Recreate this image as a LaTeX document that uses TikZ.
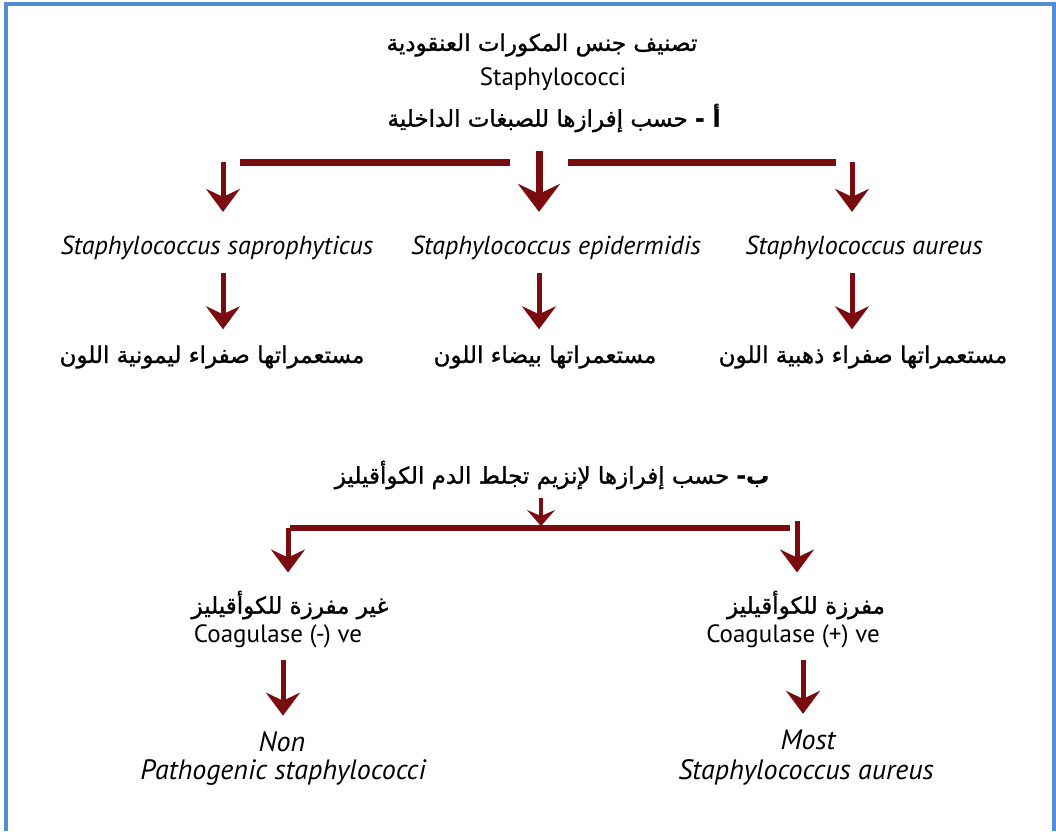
\documentclass[tikz,border=0pt]{standalone}
\usepackage{fontspec}
\setmainfont{PT Sans}
\newfontfamily\arabicfont[Script=Arabic, FakeBold=1.2]{DejaVu Sans}
\TeXXeTstate=1
\usetikzlibrary{arrows.meta, positioning}
\definecolor{arrowred}{RGB}{122,12,16}
\definecolor{frameblue}{RGB}{83,141,213}
\tikzset{arab/.style={font=\arabicfont\fontsize{23}{27}\selectfont, inner sep=0pt},
         latin/.style={font=\fontsize{25}{29}\selectfont, inner sep=0pt},
         species/.style={font=\itshape\fontsize{26}{30}\selectfont, inner sep=0pt},
         bigspecies/.style={font=\itshape\fontsize{28}{32}\selectfont, inner sep=0pt},
         bar/.style={draw=arrowred, line width=7pt},
         down/.style={draw=arrowred, line width=5pt, -{Stealth[length=23pt,width=34pt,inset=8pt]}},
         bigdown/.style={down, line width=7pt, -{Stealth[length=28pt,width=42pt,inset=10pt]}},
         smalldown/.style={down, line width=4pt, -{Stealth[length=16pt,width=28pt,inset=6pt]}},
        }

\begin{document}
\begin{tikzpicture}[x=1pt, y=-1pt]
        \useasboundingbox (0,0) rectangle (1056,831);
        \draw[frameblue, line width=4pt] (6,831) -- (6,4) -- (1054,4) -- (1054,831);

        % classification a
        \node[arab](title)at(542,45){\beginR تصنيف جنس المكورات العنقودية\endR};
        \node[latin](genus)at(553,79){Staphylococci};
        \node[arab](critA)at(554,118){\beginR\textbf{أ -} حسب إفرازها للصبغات الداخلية\endR};

        \coordinate(barAl)at(240,162);
        \coordinate(barAr)at(510,162);
        \coordinate(barBl)at(568,162);
        \coordinate(barBr)at(836,162);
        \coordinate(topL)at(223,162);
        \coordinate(topM)at(539,151);
        \coordinate(topR)at(852,162);
        \draw[bar](barAl)--(barAr);
        \draw[bar](barBl)--(barBr);

        \node[species](sapro)at(217,248){Staphylococcus saprophyticus};
        \node[species](epi)at(556,248){Staphylococcus epidermidis};
        \node[species](aur)at(864,248){Staphylococcus aureus};

        \draw[down, shorten >=24pt](topL)--(topL|-sapro.north);
        \draw[bigdown, shorten >=24pt](topM)--(topM|-epi.north);
        \draw[down, shorten >=24pt](topR)--(topR|-aur.north);

        \node[arab](colL)at(212,357){\beginR مستعمراتها صفراء ليمونية اللون\endR};
        \node[arab](colM)at(545,357){\beginR مستعمراتها بيضاء اللون\endR};
        \node[arab](colR)at(863,357){\beginR مستعمراتها صفراء ذهبية اللون\endR};

        \draw[down, shorten <=13pt, shorten >=16pt](sapro.south-|topL)--(colL.north-|topL);
        \draw[down, shorten <=13pt, shorten >=16pt](epi.south-|topM)--(colM.north-|topM);
        \draw[down, shorten <=13pt, shorten >=16pt](aur.south-|topR)--(colR.north-|topR);

        % classification b
        \node[arab](critB)at(552,475){\beginR\textbf{ب-} حسب إفرازها لإنزيم تجلط الدم الكوأقيليز\endR};
        \coordinate(barCl)at(290,528);
        \coordinate(barCr)at(790,528);
        \coordinate(midB)at(541,526);
        \coordinate(downL)at(288,528);
        \coordinate(downR)at(797,521);
        \coordinate(lowL)at(283,0);
        \coordinate(lowR)at(803,0);
        \draw[bar, line width=6pt](barCl)--(barCr);
        \draw[smalldown, shorten <=8pt](critB.south-|midB)--(midB);

        \node[arab](negAr)at(290,605){\beginR غير مفرزة للكوأقيليز\endR};
        \node[latin](neg)at(278,636){Coagulase (-) ve};
        \node[arab](posAr)at(806,605){\beginR مفرزة للكوأقيليز\endR};
        \node[latin](pos)at(793,636){Coagulase (+) ve};

        \draw[down, shorten >=18pt](downL)--(downL|-negAr.north);
        \draw[down, shorten >=18pt](downR)--(downR|-posAr.north);

        \node[bigspecies](non)at(282,742){Non};
        \node[bigspecies](nonP)at(283,773){Pathogenic staphylococci};
        \node[bigspecies](most)at(808,740){Most};
        \node[bigspecies](mostS)at(806,772){Staphylococcus aureus};

        \draw[down, shorten <=12pt, shorten >=16pt](neg.south-|lowL)--(non.north-|lowL);
        \draw[down, shorten <=12pt, shorten >=16pt](pos.south-|lowR)--(most.north-|lowR);
    \end{tikzpicture}
\end{document}
